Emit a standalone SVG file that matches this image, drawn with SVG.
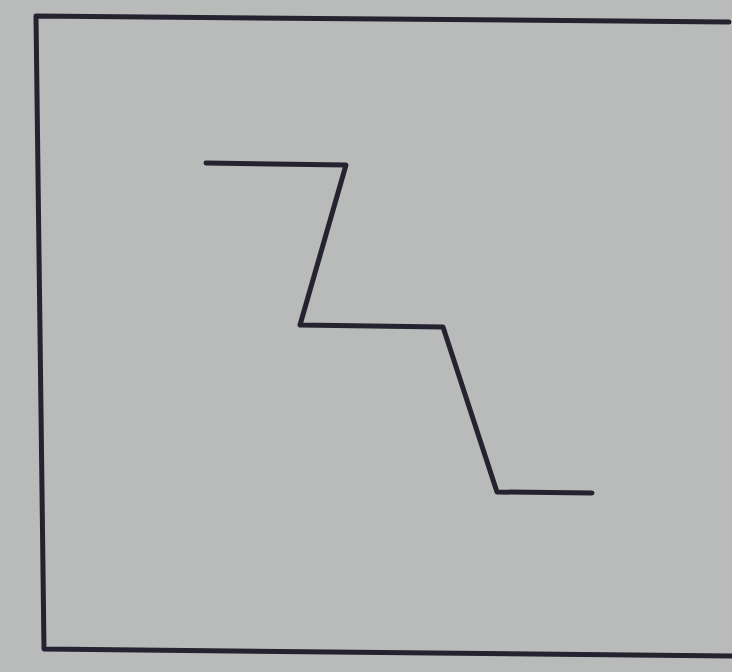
<svg xmlns="http://www.w3.org/2000/svg" width="732" height="672" viewBox="0 0 732 672">
<style>
.ln{fill:none;stroke:#24232f;stroke-width:5;stroke-linejoin:round;stroke-linecap:round}
</style>
<rect x="0" y="0" width="732" height="672" fill="#b9bbba"/>
<g id="frame">
<polyline class="ln" points="729,22 36,16 44,649 732,656"/>
</g>
<g id="zigzag">
<polyline class="ln" points="206,163 346,165 300,325 443,327 497,492 592,493"/>
</g>
</svg>
